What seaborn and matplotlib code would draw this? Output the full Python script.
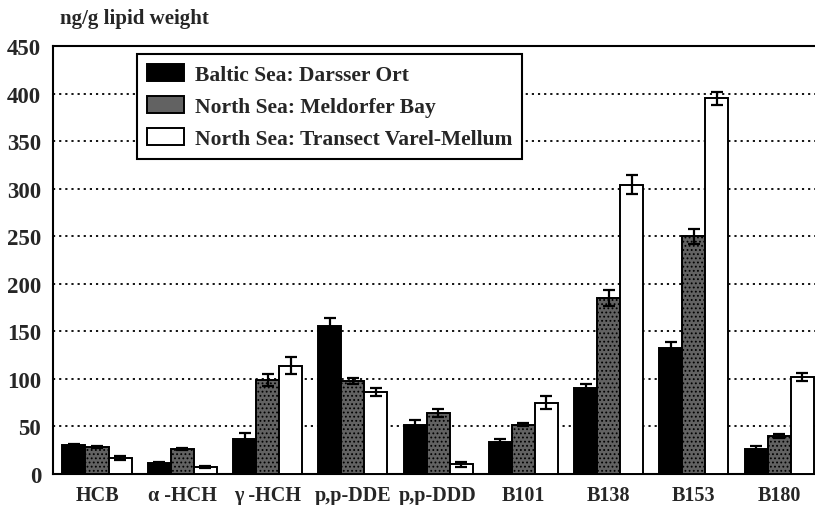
import matplotlib
matplotlib.use("Agg")
import matplotlib.pyplot as plt
import seaborn as sns
import pandas as pd
import numpy as np

categories = ["HCB", "α -HCH", "γ -HCH", "p,p-DDE", "p,p-DDD", "B101", "B138", "B153", "B180"]
series = ["Baltic Sea: Darsser Ort", "North Sea: Meldorfer Bay", "North Sea: Transect Varel-Mellum"]
baltic = [31, 12, 37, 156, 51, 34, 90, 132, 26]
meldorf = [28, 26, 99, 98, 64, 52, 185, 250, 40]
varel = [17, 7, 114, 86, 10, 75, 304, 395, 102]
baltic_err = [1, 1, 6, 8, 6, 3, 5, 7, 3]
meldorf_err = [1, 1, 6, 3, 4, 2, 8, 8, 2]
varel_err = [2, 1, 9, 4, 3, 7, 10, 7, 4]
yticks = [0, 50, 100, 150, 200, 250, 300, 350, 400, 450]

vals = [baltic, meldorf, varel]
errs = [baltic_err, meldorf_err, varel_err]
df = pd.DataFrame({
    "cat": np.repeat([categories], 3, axis=0).ravel(),
    "series": np.repeat(series, len(categories)),
    "value": np.concatenate(vals),
})

sns.set_theme(style="white")
plt.rcParams["font.family"] = ["Liberation Serif", "DejaVu Serif"]
plt.rcParams["font.weight"] = "bold"
plt.rcParams["hatch.color"] = "#1a1a1a"
plt.rcParams["hatch.linewidth"] = 0.8

W, H = 815, 506
fig = plt.figure(figsize=(W / 100, H / 100), dpi=100)
ax = fig.add_axes([53 / W, (H - 475) / H, (W - 53) / W, 428 / H])

palette = ["#000000", "#626262", "#ffffff"]
sns.barplot(data=df, x="cat", y="value", hue="series", order=categories,
            hue_order=series, palette=palette, errorbar=None, width=0.81,
            edgecolor="black", linewidth=1.4, saturation=1, ax=ax, zorder=3)

n = len(categories)
bars = list(ax.patches)[:3 * n]
for b in bars[n:2 * n]:
    b.set_hatch("....")
for i, (v, e) in enumerate(zip(vals, errs)):
    for j in range(n):
        b = bars[i * n + j]
        xc = b.get_x() + b.get_width() / 2
        ax.errorbar(xc, v[j], yerr=e[j], fmt="none", ecolor="black",
                    elinewidth=1.6, capsize=4.5, capthick=1.6, zorder=4)

ax.set_ylim(0, 450)
ax.set_xlim(-0.516, 8.42)
ax.set_yticks(yticks)
ax.set_yticklabels([str(t) for t in yticks], fontsize=16.5, fontweight="bold")
ax.set_xticks(range(n))
ax.set_xticklabels(categories, fontsize=14.5, fontweight="bold")
ax.tick_params(axis="y", length=0, pad=8.5)
ax.tick_params(axis="x", length=0, pad=8)
ax.set_xlabel("")
ax.set_ylabel("")
for t in yticks[1:-1]:
    ax.axhline(t, color="black", linestyle=(0, (1.2, 2.2)), linewidth=1.3, zorder=1)

for s in ["left", "top", "bottom"]:
    ax.spines[s].set_visible(True)
    ax.spines[s].set_color("black")
    ax.spines[s].set_linewidth(1.5)
ax.spines["right"].set_visible(False)

fig.text(60 / W, 1 - 19 / H, "ng/g lipid weight", fontsize=15,
         fontweight="bold", va="center", ha="left")

leg = ax.legend(loc="upper left", bbox_to_anchor=(0.110, 0.981), borderaxespad=0,
                frameon=True, fancybox=False, edgecolor="black", framealpha=1,
                prop={"size": 15.5, "weight": "bold"}, handlelength=1.75,
                handleheight=0.88, borderpad=0.45, labelspacing=0.5,
                handletextpad=0.5)
leg.get_frame().set_linewidth(1.5)

fig.savefig("out.png", dpi=100)
